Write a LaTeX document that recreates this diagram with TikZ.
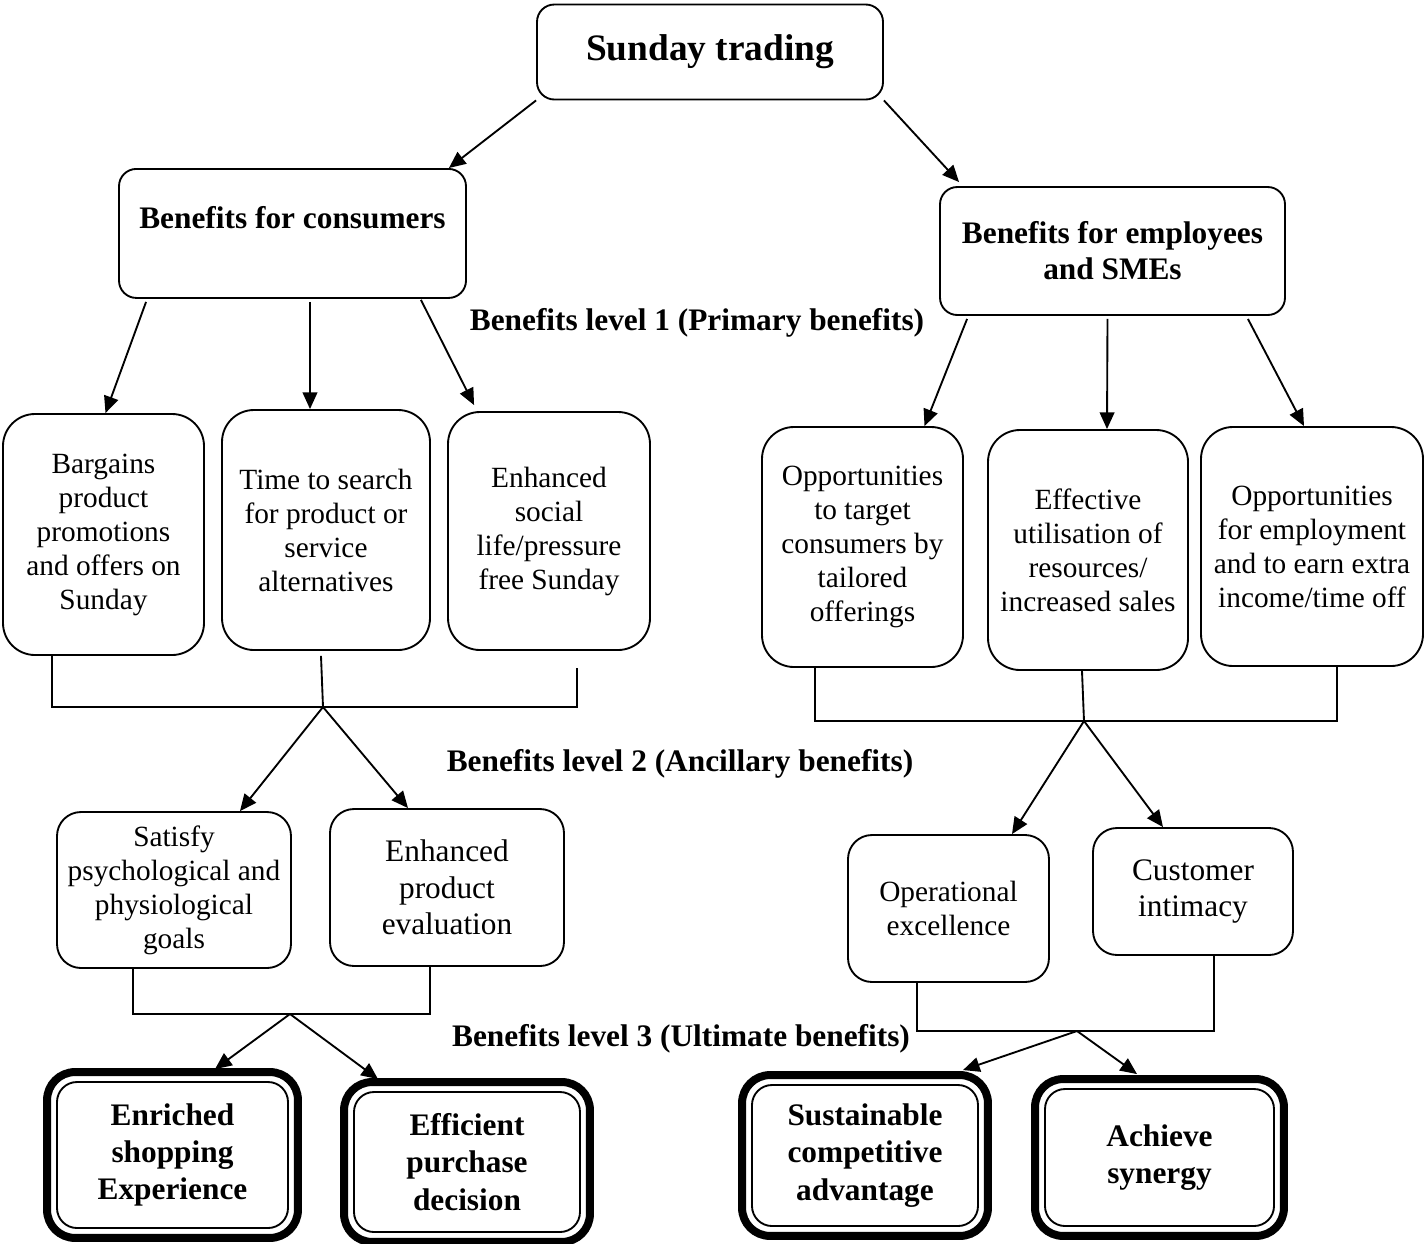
\documentclass[tikz,border=0pt]{standalone}
\usepackage{fontspec}
\setmainfont{Liberation Serif}
\usetikzlibrary{calc,arrows.meta,positioning}

\begin{document}
\begin{tikzpicture}[x=0.75pt,y=-0.75pt,
    box/.style={draw, line width=1.4pt, align=center, inner sep=2pt},
    headbox/.style={box, rounded corners=13pt, font=\fontsize{23.5}{27}\selectfont\bfseries},
    leafbox/.style={box, rounded corners=24pt, font=\fontsize{22}{25.5}\selectfont},
    midbox/.style={box, rounded corners=18pt, font=\fontsize{22}{25.5}\selectfont},
    bigbox/.style={box, rounded corners=18pt, font=\fontsize{23.5}{27.5}\selectfont},
    ultbox/.style={box, rounded corners=15pt, font=\fontsize{23.5}{28}\selectfont\bfseries},
    levellabel/.style={font=\fontsize{23.5}{27}\selectfont\bfseries},
    arr/.style={-{Triangle[length=12.5pt,width=11pt]}, line width=1.4pt},
    brk/.style={line width=1.4pt}]
  \useasboundingbox (0,0) rectangle (1425,1243);

  % top of the tree
  \node[headbox, font=\fontsize{28}{32}\selectfont\bfseries, minimum width=259.5pt, minimum height=71.25pt] (title) at (710,52) {Sunday trading};
  \node[headbox, anchor=north, minimum width=260.25pt, text height=43pt, text depth=49.75pt] (cons) at (292.5,168) {Benefits for consumers};
  \node[headbox, minimum width=258.75pt, minimum height=96pt] (emp) at (1112.5,251) {Benefits for employees\\and SMEs};

  \draw[arr] (title.south west) -- ($(cons.north east)+(-18,0)$);
  \draw[arr] (title.south east) -- ($(emp.north west)+(20,-4)$);

  % level 1
  \node[levellabel] (lev1) at (697,323) {Benefits level 1 (Primary benefits)};
  \node[leafbox, minimum width=150.75pt, minimum height=180.75pt] (b1) at (103.5,534.5) {Bargains\\product\\promotions\\and offers on\\Sunday};
  \node[leafbox, minimum width=156pt, minimum height=180pt] (b2) at (326,530) {Time to search\\for product or\\service\\alternatives};
  \node[leafbox, minimum width=151.5pt, minimum height=178.5pt] (b3) at (549,531) {Enhanced\\social\\life/pressure\\free Sunday};
  \node[leafbox, minimum width=150.75pt, minimum height=180pt] (b4) at (862.5,547) {Opportunities\\to target\\consumers by\\tailored\\offerings};
  \node[leafbox, minimum width=150pt, minimum height=180pt] (b5) at (1088,550) {Effective\\utilisation of\\resources/\\increased sales};
  \node[leafbox, minimum width=166.5pt, minimum height=179.25pt] (b6) at (1312,546.5) {Opportunities\\for employment\\and to earn extra\\income/time off};

  \draw[arr] ($(cons.south west)+(28,3)$) -- ($(b1.north)+(2,0)$);
  \draw[arr] ($(cons.south)+(17.5,3)$) -- ($(b2.north)+(-16,0)$);
  \draw[arr] ($(cons.south east)+(-46,1)$) -- ($(b3.north west)+(27,-6)$);
  \draw[arr] ($(emp.south west)+(28,3)$) -- ($(b4.north)+(62,0)$);
  \draw[arr] ($(emp.south)+(-5,3)$) -- ($(b5.north)+(19,0)$);
  \draw[arr] ($(emp.south east)+(-38,3)$) -- ($(b6.north)+(-8,0)$);

  % brackets under level 1
  \coordinate (j1) at (323,707);
  \coordinate (j2) at (1084,721);
  \draw[brk] ($(b1.south)+(-51.5,0)$) |- (j1) -| ($(b3.south)+(28,17)$);
  \draw[brk] ($(b2.south)+(-5,5)$) -- (j1);
  \draw[brk] ($(b4.south)+(-47.5,0)$) |- (j2) -| ($(b6.south)+(25,0)$);
  \draw[brk] ($(b5.south)+(-6,0)$) -- (j2);

  % level 2
  \node[levellabel] (lev2) at (680,764) {Benefits level 2 (Ancillary benefits)};
  \node[midbox, minimum width=175.5pt, minimum height=117pt] (a1) at (174,890) {Satisfy\\psychological and\\physiological\\goals};
  \node[bigbox, minimum width=175.5pt, minimum height=117.75pt] (a2) at (447,887.5) {Enhanced\\product\\evaluation};
  \node[midbox, minimum width=150.75pt, minimum height=110.25pt] (a3) at (948.5,908.5) {Operational\\excellence};
  \node[bigbox, minimum width=150pt, minimum height=95.25pt] (a4) at (1193,891.5) {Customer\\intimacy};

  \draw[arr] (j1) -- ($(a1.north)+(66,0)$);
  \draw[arr] (j1) -- ($(a2.north)+(-39,0)$);
  \draw[arr] (j2) -- ($(a3.north)+(63.5,0)$);
  \draw[arr] (j2) -- ($(a4.north)+(-30,0)$);

  % brackets under level 2
  \coordinate (j3) at (290,1014);
  \coordinate (j4) at (1077,1031);
  \draw[brk] ($(a1.south)+(-41,0)$) |- (j3) -| ($(a2.south)+(-17,0)$);
  \draw[brk] ($(a3.south)+(-31.5,0)$) |- (j4) -| ($(a4.south)+(21,0)$);

  % level 3
  \node[levellabel] (lev3) at (681,1039) {Benefits level 3 (Ultimate benefits)};
  \node[ultbox, minimum width=173.25pt, minimum height=109.5pt] (u1) at (172.5,1155) {Enriched\\shopping\\Experience};
  \node[ultbox, minimum width=169.5pt, minimum height=105pt] (u2) at (467,1162) {Efficient\\purchase\\decision};
  \node[ultbox, minimum width=169.5pt, minimum height=105.75pt] (u3) at (865,1155.5) {Sustainable\\competitive\\advantage};
  \node[ultbox, minimum width=171.75pt, minimum height=102.75pt] (u4) at (1159.5,1157.5) {Achieve\\synergy};
  \foreach \n in {u1,u2,u3,u4}
    \draw[line width=6pt, rounded corners=21pt] ($(\n.south west)+(-9,9)$) rectangle ($(\n.north east)+(9,-9)$);

  \draw[arr] (j3) -- ($(u1.north)+(42.5,-12)$);
  \draw[arr] (j3) -- ($(u2.north)+(-89,-12)$);
  \draw[arr] (j4) -- ($(u3.north)+(98,-14)$);
  \draw[arr] (j4) -- ($(u4.north)+(-22.5,-14)$);
\end{tikzpicture}
\end{document}
